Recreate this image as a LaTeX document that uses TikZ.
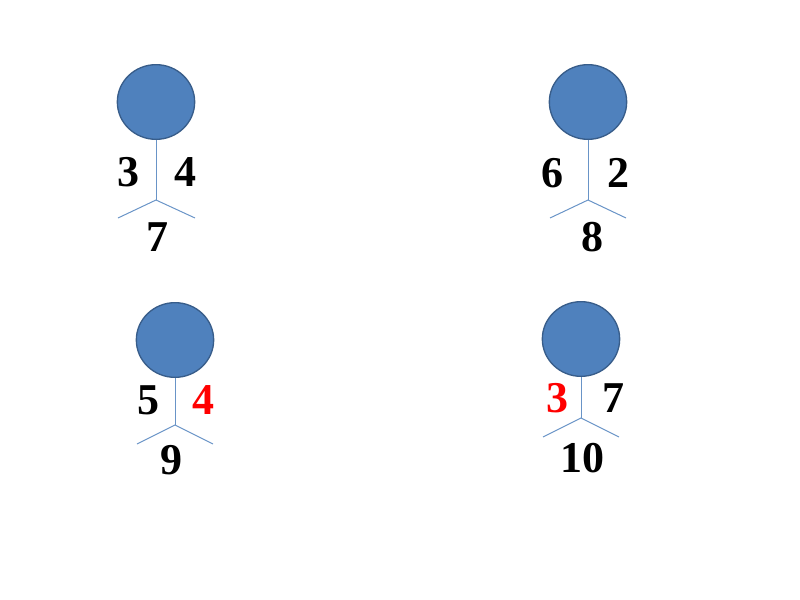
\documentclass[tikz,border=0pt]{standalone}
\usepackage{fontspec}
\setmainfont{Liberation Serif}
\usetikzlibrary{shapes.geometric}
\definecolor{headblue}{HTML}{4F81BD}
\definecolor{headedge}{HTML}{385D8A}
\tikzset{
  head/.style={ellipse,draw=headedge,line width=1pt,fill=headblue,inner sep=0pt,minimum width=58pt,minimum height=56pt},
  limb/.style={headblue!85,line width=0.75pt},
  num/.style={font=\fontsize{33}{33}\selectfont\bfseries,inner sep=0pt},
  hot/.style={num,text=red}
}
\begin{document}
\begin{tikzpicture}[x=0.75pt,y=-0.75pt]
            \useasboundingbox (0,0) rectangle (800,600);

            % top left
            \node[head] (h1) at (156,102) {};
            \coordinate (j1) at (156,200);
            \coordinate (l1) at (118,218);
            \coordinate (r1) at (195,218);
            \draw[limb] (h1.south)--(j1);
            \draw[limb] (l1)--(j1)--(r1);
            \node[num] (a1) at (128,172) {3};
            \node[num] (b1) at (185,172) {4};
            \node[num] (s1) at (157,237) {7};

            % top right
            \node[head] (h2) at (588,102) {};
            \coordinate (j2) at (588,200);
            \coordinate (l2) at (550,218);
            \coordinate (r2) at (626,218);
            \draw[limb] (h2.south)--(j2);
            \draw[limb] (l2)--(j2)--(r2);
            \node[num] (a2) at (552,173) {6};
            \node[num] (b2) at (618,173) {2};
            \node[num] (s2) at (592,237) {8};

            % bottom left
            \node[head] (h3) at (175,340) {};
            \coordinate (j3) at (175,425);
            \coordinate (l3) at (137,444);
            \coordinate (r3) at (213,444);
            \draw[limb] (h3.south)--(j3);
            \draw[limb] (l3)--(j3)--(r3);
            \node[num] (a3) at (148,400) {5};
            \node[hot] (b3) at (203,400) {4};
            \node[num] (s3) at (171,460) {9};

            % bottom right
            \node[head] (h4) at (581,339) {};
            \coordinate (j4) at (581,418);
            \coordinate (l4) at (543,437);
            \coordinate (r4) at (619,437);
            \draw[limb] (h4.south)--(j4);
            \draw[limb] (l4)--(j4)--(r4);
            \node[hot] (a4) at (557,398) {3};
            \node[num] (b4) at (613,398) {7};
            \node[num] (s4) at (582,458) {10};
\end{tikzpicture}
\end{document}
